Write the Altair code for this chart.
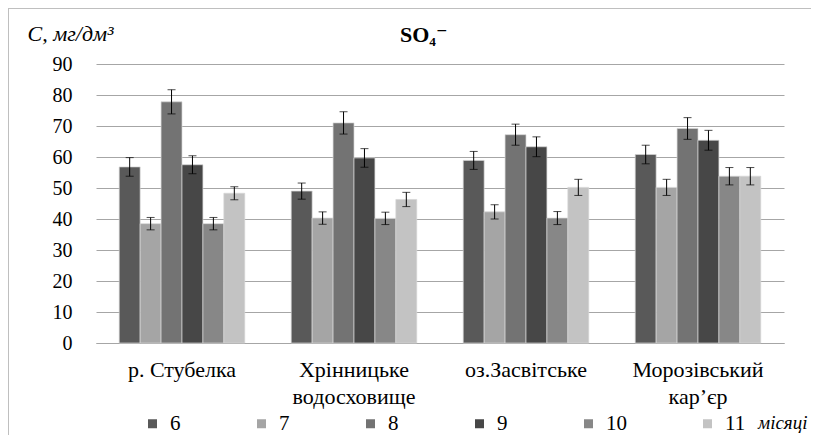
import altair as alt
import pandas as pd

sites = ["р. Стубелка", "Хрінницьке\nводосховище", "оз.Засвітське", "Морозівський\nкар’єр"]
months = ["6", "7", "8", "9", "10", "11"]

values = {
    "6":  [56.8, 49.0, 58.9, 60.8],
    "7":  [38.5, 40.3, 42.3, 50.2],
    "8":  [77.8, 71.0, 67.2, 69.2],
    "9":  [57.5, 59.7, 63.3, 65.4],
    "10": [38.5, 40.2, 40.3, 53.8],
    "11": [48.3, 46.3, 50.2, 53.8],
}
errors = {
    "6":  [3.0, 2.6, 2.9, 3.0],
    "7":  [2.0, 2.0, 2.3, 2.6],
    "8":  [3.9, 3.6, 3.4, 3.5],
    "9":  [2.9, 3.0, 3.2, 3.2],
    "10": [2.0, 2.0, 2.1, 2.8],
    "11": [2.1, 2.3, 2.6, 2.8],
}
colors = ["#595959", "#a5a5a5", "#737373", "#474747", "#878787", "#c3c3c3"]
title_text = "SO₄⁻"
y_ticks = [0, 10, 20, 30, 40, 50, 60, 70, 80, 90]

rows = []
for m in months:
    for i, s in enumerate(sites):
        v = values[m][i]
        e = errors[m][i]
        rows.append({"site": s, "month": m, "value": v, "lo": v - e, "hi": v + e})
df = pd.DataFrame(rows)

FONT = "Liberation Serif, Times New Roman, DejaVu Serif, serif"
yscale = alt.Scale(domain=[0, 90], nice=False)

y_axis = alt.Axis(values=y_ticks, domain=False, ticks=False,
                  labelOverlap=False,
                  gridColor="#a6a6a6", gridWidth=1,
                  labelFont=FONT, labelFontSize=20, labelColor="#000000",
                  labelPadding=24,
                  title="C, мг/дм³", titleAngle=0, titleAlign="left",
                  titleBaseline="alphabetic", titleX=-69, titleY=-24,
                  titleFont=FONT, titleFontSize=22, titleFontStyle="italic",
                  titleFontWeight="normal", titleColor="#000000")

base = alt.Chart(df).encode(
    x=alt.X("site:N", sort=sites,
            scale=alt.Scale(paddingInner=0.27, paddingOuter=0.135),
            axis=alt.Axis(title=None, labelAngle=0, ticks=False, domainColor="#a6a6a6",
                          labelFont=FONT, labelFontSize=22, labelColor="#000000",
                          labelLineHeight=27, labelPadding=16,
                          labelExpr="split(datum.label, '\\n')")),
    xOffset=alt.XOffset("month:N", sort=months, scale=alt.Scale(paddingInner=0, paddingOuter=0)),
)

bars = base.mark_bar(stroke="#d6d6d6", strokeWidth=0.7).encode(
    y=alt.Y("value:Q", scale=yscale, axis=y_axis),
    color=alt.Color("month:N", sort=months,
                    scale=alt.Scale(domain=months, range=colors),
                    legend=alt.Legend(orient="none", legendX=46, legendY=349,
                                      direction="horizontal", columns=6,
                                      symbolType="square", symbolSize=81,
                                      symbolStrokeWidth=0, labelOffset=7,
                                      columnPadding=70,
                                      labelFont=FONT, labelFontSize=21, labelColor="#000000",
                                      title="місяці", titleOrient="right",
                                      titlePadding=13, titleFont=FONT,
                                      titleFontSize=19, titleFontStyle="italic",
                                      titleFontWeight="normal", titleColor="#000000")),
)

rules = base.mark_rule(color="#000000", strokeWidth=1).encode(
    y=alt.Y("lo:Q", scale=yscale, axis=y_axis), y2="hi:Q")
cap_hi = base.mark_tick(color="#000000", orient="horizontal", size=8, thickness=1).encode(
    y=alt.Y("hi:Q", scale=yscale, axis=y_axis))
cap_lo = base.mark_tick(color="#000000", orient="horizontal", size=8, thickness=1).encode(
    y=alt.Y("lo:Q", scale=yscale, axis=y_axis))

title = alt.Chart(pd.DataFrame({"t": [title_text]})).mark_text(
    font=FONT, fontSize=22, fontWeight="bold", color="#000000",
    align="left", baseline="alphabetic", clip=False).encode(
    text="t:N", x=alt.value(304), y=alt.value(-22))

frame_top = alt.Chart(df).mark_rule(color="#bfbfbf", strokeWidth=1, clip=False).encode(
    x=alt.value(-88), x2=alt.value(800), y=alt.value(-55.5))
frame_left = alt.Chart(df).mark_rule(color="#bfbfbf", strokeWidth=1, clip=False).encode(
    x=alt.value(-87.5), y=alt.value(-56), y2=alt.value(400))

chart = alt.layer(bars, rules, cap_hi, cap_lo, title, frame_top, frame_left).properties(
    width=688, height=279,
    autosize=alt.AutoSizeParams(type="none"),
    padding={"left": 88, "top": 56, "right": 27, "bottom": 92},
).configure_view(stroke=None).configure_axis(labelFont=FONT, titleFont=FONT)

chart.save("out.html", embed_options={"renderer": "svg", "actions": False})
